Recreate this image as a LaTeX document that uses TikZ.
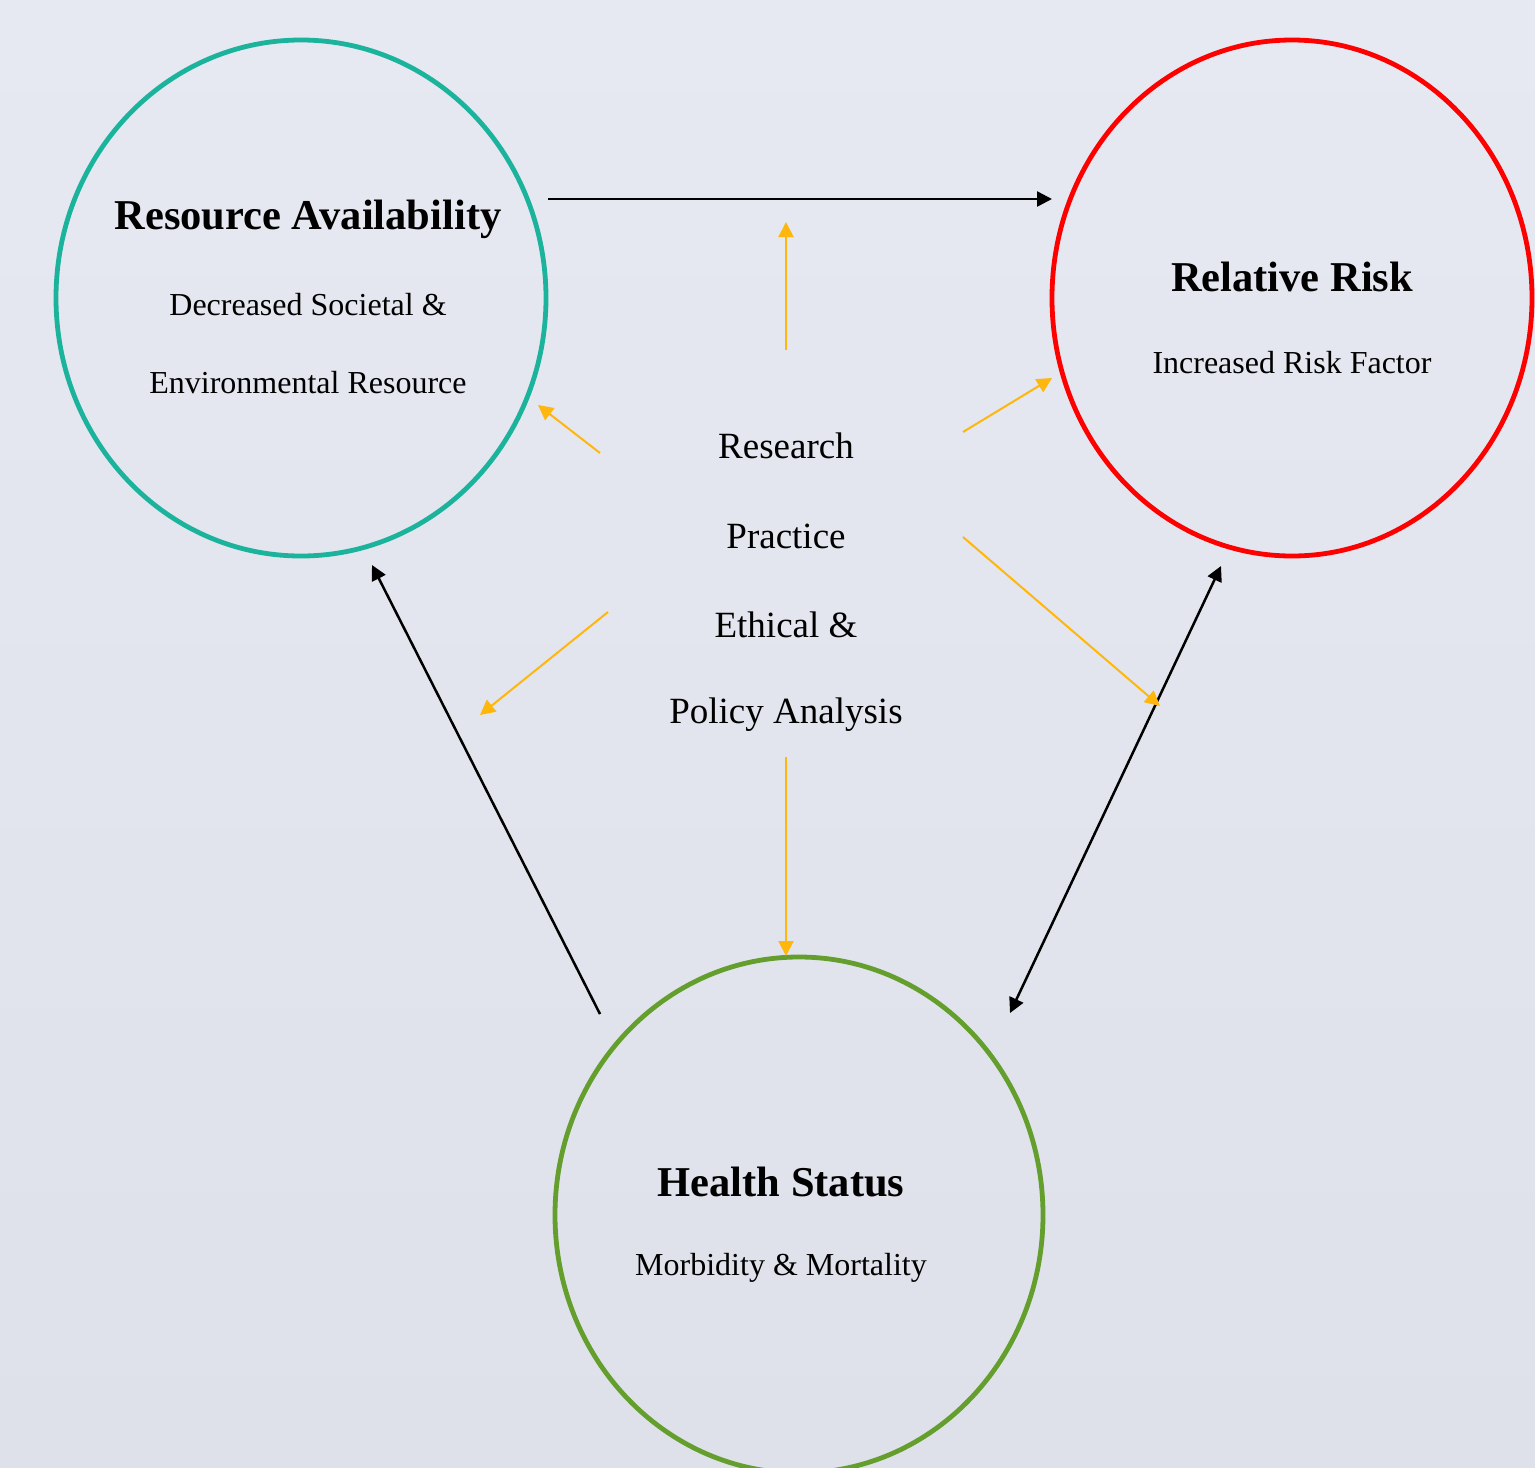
\documentclass[tikz,border=0pt]{standalone}
\usepackage{fontspec}
\setmainfont{Liberation Serif}
\usetikzlibrary{arrows.meta}
\definecolor{bgtop}{HTML}{E6E9F1}
\definecolor{bgbot}{HTML}{DEE1E9}
\definecolor{teal}{HTML}{1BB39C}
\definecolor{riskred}{HTML}{FF0000}
\definecolor{leaf}{HTML}{649E2C}
\definecolor{amber}{HTML}{FFB60D}
\tikzset{
  title/.style={font=\fontsize{42.5}{45}\selectfont\bfseries, inner sep=0pt, yshift=-3pt},
  sub/.style={font=\fontsize{32}{34}\selectfont, inner sep=0pt, yshift=-3pt},
  centre/.style={font=\fontsize{37}{40}\selectfont, inner sep=0pt, yshift=-3pt},
  blackarrow/.style={line width=2.5pt, draw=black, -{Triangle[length=15pt,width=15pt]}},
  blackboth/.style={line width=2.5pt, draw=black, {Triangle[length=15pt,width=15pt]}-{Triangle[length=15pt,width=15pt]}},
  amberarrow/.style={line width=2pt, draw=amber, -{Triangle[length=15pt,width=15pt]}, amber},
  ringline/.style={line width=4.8pt},
}
\begin{document}
\begin{tikzpicture}[x=1pt,y=-1pt]
\useasboundingbox (0,0) rectangle (1535,1468);
\shade[top color=bgtop, bottom color=bgbot] (0,0) rectangle (1535,1468);
% circles
\draw[teal, ringline] (301,298) ellipse [x radius=245, y radius=258];
\draw[riskred, ringline] (1292,298) ellipse [x radius=240, y radius=258];
\draw[leaf, ringline] (799,1215) ellipse [x radius=244, y radius=258];
% texts
\node[title] (ra) at (308,216) {Resource Availability};
\node[sub] (ra1) at (308,302) {Decreased Societal \&};
\node[sub] (ra2) at (308,380) {Environmental Resource};
\node[title] (rr) at (1292,274) {Relative Risk};
\node[sub] (rr1) at (1292,360) {Increased Risk Factor};
\node[title] (hs) at (781,1179) {Health Status};
\node[sub] (hs1) at (781,1265) {Morbidity \& Mortality};
\node[centre] (c1) at (786,443) {Research};
\node[centre] (c2) at (786,533) {Practice};
\node[centre] (c3) at (786,622) {Ethical \&};
\node[centre] (c4) at (786,712) {Policy Analysis};
% connector end points
\coordinate (raE) at (548,199);
\coordinate (rrW) at (1052,199);
\coordinate (hsNW) at (600,1014);
\coordinate (raS) at (372,565);
\coordinate (hsNE) at (1010,1013);
\coordinate (rrS) at (1221,566);
\coordinate (cTop) at (786,350);
\coordinate (cTopT) at (786,222);
\coordinate (cUL) at (600,453);
\coordinate (cULT) at (538,405);
\coordinate (cUR) at (963,432);
\coordinate (cURT) at (1052,378);
\coordinate (cLL) at (608,612);
\coordinate (cLLT) at (480,715);
\coordinate (cLR) at (963,537);
\coordinate (cLRT) at (1160,706);
\coordinate (cBot) at (786,757);
\coordinate (cBotT) at (786,956);
% black connectors
\draw[blackarrow] (raE) -- (rrW);
\draw[blackarrow] (hsNW) -- (raS);
\draw[blackboth] (hsNE) -- (rrS);
% amber connectors
\draw[amberarrow] (cTop) -- (cTopT);
\draw[amberarrow] (cUL) -- (cULT);
\draw[amberarrow] (cUR) -- (cURT);
\draw[amberarrow] (cLL) -- (cLLT);
\draw[amberarrow] (cLR) -- (cLRT);
\draw[amberarrow] (cBot) -- (cBotT);
\end{tikzpicture}
\end{document}
